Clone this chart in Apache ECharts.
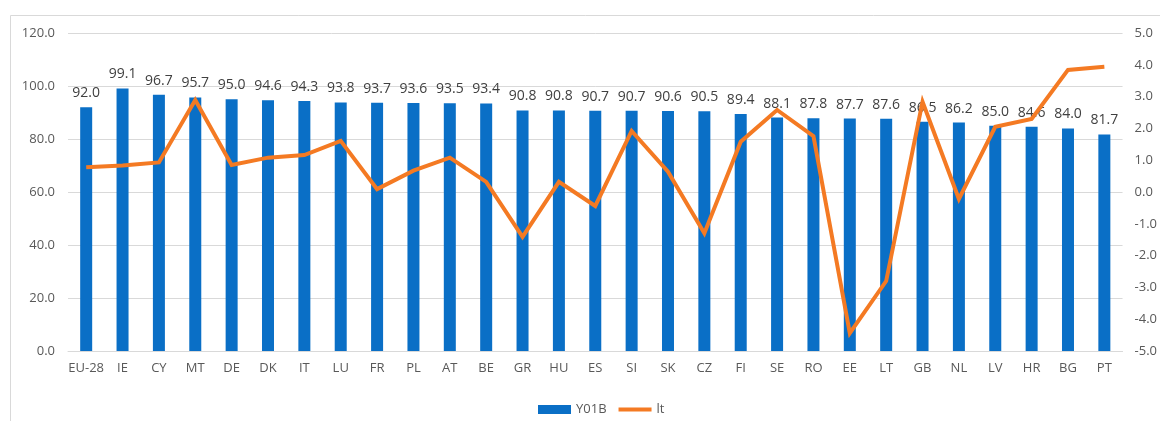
<!DOCTYPE html>
<html>
<head>
<meta charset="utf-8">
<script src="https://cdn.jsdelivr.net/npm/echarts@6/dist/echarts.min.js"></script>
<style>
  html, body { margin: 0; padding: 0; background: #fff; }
  #chart { width: 1160px; height: 421px; }
</style>
</head>
<body>
<div id="chart"></div>
<script>
const countries = ['EU-28', 'IE', 'CY', 'MT', 'DE', 'DK', 'IT', 'LU', 'FR', 'PL', 'AT', 'BE', 'GR', 'HU', 'ES',
  'SI', 'SK', 'CZ', 'FI', 'SE', 'RO', 'EE', 'LT', 'GB', 'NL', 'LV', 'HR', 'BG', 'PT']

const y01b = [92.0, 99.1, 96.7, 95.7, 95.0, 94.6, 94.3, 93.8, 93.7, 93.6, 93.5, 93.4, 90.8, 90.8, 90.7,
  90.7, 90.6, 90.5, 89.4, 88.1, 87.8, 87.7, 87.6, 86.5, 86.2, 85.0, 84.6, 84.0, 81.7]

const lt = [0.78, 0.83, 0.93, 2.89, 0.85, 1.08, 1.16, 1.61, 0.09, 0.67, 1.08, 0.32, -1.41, 0.32, -0.44,
  1.92, 0.64, -1.30, 1.58, 2.58, 1.76, -4.44, -2.80, 2.84, -0.22, 2.05, 2.30, 3.84, 3.94]

const font = 'Open Sans'
const barColor = '#0a6fc6'
const lineColor = '#f47a23'

// thin line icon for the legend, padded to the same box as the bar icon
const lineIcon = 'path://M0,0 L0.01,0 Z M0,2 L33,2 L33,6 L0,6 Z M0,8 L0.01,8 Z'

const chart = echarts.init(document.getElementById('chart'))
chart.setOption({
  animation: false,
  textStyle: { fontFamily: font },
  graphic: [
    {
      type: 'rect',
      z: -10,
      shape: { x: 10.5, y: 15.5, width: 1300, height: 600 },
      style: { fill: 'none', stroke: '#d9d9d9', lineWidth: 1 }
    }
  ],
  legend: {
    top: 398,
    left: 533,
    itemWidth: 33,
    itemHeight: 9,
    itemGap: 12,
    textStyle: { color: '#595959', fontSize: 13, fontFamily: font },
    data: [
      { name: 'Y01B', icon: 'rect' },
      { name: 'lt', icon: lineIcon, itemStyle: { color: lineColor } }
    ]
  },
  grid: {
    left: 68,
    right: 34,
    top: 33,
    bottom: 70
  },
  xAxis: {
    type: 'category',
    data: countries,
    axisLine: { lineStyle: { color: '#d9d9d9' } },
    axisTick: { show: false },
    axisLabel: { color: '#595959', fontSize: 13, margin: 11, interval: 0 }
  },
  yAxis: [
    {
      type: 'value',
      min: 0,
      max: 120,
      interval: 20,
      axisLine: { show: false },
      axisTick: { show: false },
      splitLine: { lineStyle: { color: '#d9d9d9' } },
      axisLabel: {
        color: '#595959',
        fontSize: 13,
        margin: 13,
        formatter: (v) => v.toFixed(1)
      }
    },
    {
      type: 'value',
      min: -5,
      max: 5,
      interval: 1,
      axisLine: { show: false },
      axisTick: { show: false },
      splitLine: { show: false },
      axisLabel: {
        color: '#595959',
        fontSize: 13,
        margin: 12,
        formatter: (v) => v.toFixed(1)
      }
    }
  ],
  series: [
    {
      name: 'Y01B',
      type: 'bar',
      data: y01b,
      barWidth: 12,
      itemStyle: { color: barColor },
      label: {
        show: true,
        position: 'top',
        distance: 7,
        color: '#404040',
        fontSize: 14,
        formatter: (p) => p.value.toFixed(1)
      }
    },
    {
      name: 'lt',
      type: 'line',
      yAxisIndex: 1,
      data: lt,
      symbol: 'none',
      z: 3,
      lineStyle: { color: lineColor, width: 4, join: 'miter' },
      itemStyle: { color: lineColor }
    }
  ]
})
</script>
</body>
</html>
